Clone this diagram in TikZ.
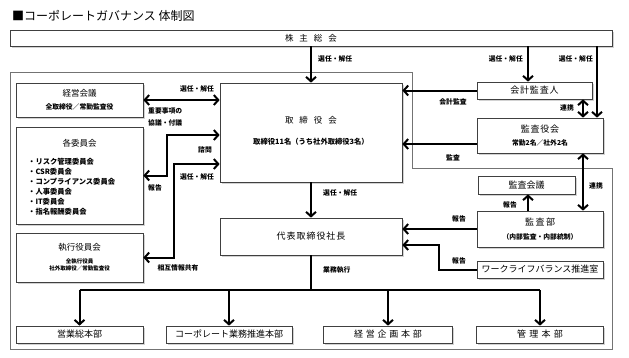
\documentclass[tikz,border=0pt]{standalone}
\usepackage{fontspec}
\setmainfont{Noto Sans CJK JP}
\usetikzlibrary{arrows.meta,shadows,calc}
\newcommand\fs[1]{\fontsize{#1}{#1}\selectfont}
\begin{document}
\begin{tikzpicture}[x=1pt,y=-1pt,
 box/.style={draw=black!75, line width=0.7pt, fill=white, inner sep=0pt,
   drop shadow={shadow xshift=1.8pt,shadow yshift=-1.8pt,fill=black!35}},
 lbl/.style={font=\fs{6.8}\bfseries, inner sep=0pt},
 ttl/.style={font=\fs{9}, inner sep=0pt},
 sub/.style={font=\fs{6.8}\bfseries, inner sep=0pt},
 arr/.style={line width=2pt, -{Straight Barb[length=4.5pt,width=10pt]}},
 dbl/.style={line width=2pt, {Straight Barb[length=4.5pt,width=10pt]}-{Straight Barb[length=4.5pt,width=10pt]}},
 ln/.style={line width=2pt}]
\fill[white] (0,0) rectangle (629,357);
\useasboundingbox (0,0) rectangle (629,357);

% title
\node[anchor=west, inner sep=0pt, font=\fs{12}] (title) at (12,16) {■コーポレートガバナンス 体制図};

% outer frame
\draw[black!55, line width=0.9pt] (10,72) -- (412,72) -- (412,168) -- (612,168) -- (612,349) -- (10,349) -- cycle;

% shareholders
\node[box, minimum width=602pt, minimum height=16pt, font=\fs{8.5}] (kabu) at (311,38) {株\kern6pt 主\kern6pt 総\kern6pt 会};

% left column
\node[box, minimum width=127pt, minimum height=34pt] (keiei) at (79.5,100) {};
\node[ttl, font=\fs{8.5}] (keieiT) at (79.5,93) {経営会議};
\node[sub] (keieiS) at (79.5,107) {全取締役／常勤監査役};

\node[box, minimum width=127pt, minimum height=97pt] (iinkai) at (79.5,175.5) {};
\node[ttl, font=\fs{8.5}] (iinkaiT) at (79.5,143) {各委員会};
\node[anchor=north west, inner sep=0pt, align=left, font=\fontsize{7.3}{10}\selectfont\bfseries] (iinkaiL) at (28,158)
 {・リスク管理委員会\\・CSR委員会\\・コンプライアンス委員会\\・人事委員会\\・IT委員会\\・指名報酬委員会};

\node[box, minimum width=127pt, minimum height=49pt] (shikko) at (79.5,257.5) {};
\node[ttl, font=\fs{8.5}] (shikkoT) at (79.5,247) {執行役員会};
\node[sub, align=center, font=\fontsize{5.5}{6.5}\selectfont\bfseries] (shikkoS) at (79.5,265) {全執行役員\\社外取締役／常勤監査役};

% center column
\node[box, minimum width=182pt, minimum height=99pt] (tori) at (311,132.5) {};
\node[ttl, font=\fs{8.5}] (toriT) at (311,120) {取\kern6pt 締\kern6pt 役\kern6pt 会};
\node[sub, font=\fs{7.3}\bfseries] (toriS) at (311,142) {取締役11名（うち社外取締役3名）};

\node[box, minimum width=182pt, minimum height=37pt, font=\fs{9}] (daihyo) at (311,236.5) {代\kern1pt 表\kern1pt 取\kern1pt 締\kern1pt 役\kern1pt 社\kern1pt 長};

% right column
\node[box, minimum width=115pt, minimum height=17pt, font=\fs{9}] (kaikei) at (534.5,90.5) {会\kern0.8pt 計\kern0.8pt 監\kern0.8pt 査\kern0.8pt 人};
\node[box, minimum width=126pt, minimum height=35pt] (kansayaku) at (540,135.5) {};
\node[ttl] (kansayakuT) at (540,129) {監\kern0.7pt 査\kern0.7pt 役\kern0.7pt 会};
\node[sub] (kansayakuS) at (540,143) {常勤2名／社外2名};
\node[box, minimum width=97pt, minimum height=18pt, font=\fs{9}] (kaigi) at (526.5,185) {監査会議};
\node[box, minimum width=126pt, minimum height=36pt] (kansabu) at (540,229) {};
\node[ttl] (kansabuT) at (540,222) {監\kern1.5pt 査\kern1.5pt 部};
\node[sub] (kansabuS) at (540,237) {（内部監査・内部統制）};
\node[box, minimum width=126pt, minimum height=17pt, font=\fs{9}] (wlb) at (540,269.5) {ワークライフバランス推進室};

% bottom row
\node[box, minimum width=127pt, minimum height=17pt, font=\fs{9}] (eigyo) at (79.5,334.5) {営業総本部};
\node[box, minimum width=126pt, minimum height=17pt, font=\fs{9}] (corp) at (229,334.5) {コーポレート業務推進本部};
\node[box, minimum width=129pt, minimum height=17pt, font=\fs{9}] (kikaku) at (388,334.5) {経\kern2.8pt 営\kern2.8pt 企\kern2.8pt 画\kern2.8pt 本\kern2.8pt 部};
\node[box, minimum width=127pt, minimum height=17pt, font=\fs{9}] (kanri) at (540,334.5) {管\kern3.3pt 理\kern3.3pt 本\kern3.3pt 部};

% helper coordinates
\coordinate (kx) at (528,0);
\coordinate (ky) at (597,0);
\coordinate (rx) at (583,0);
\coordinate (c1) at (167,135);
\coordinate (c2) at (174,164);
\coordinate (c3) at (0,144);
\coordinate (c5) at (439,245);
\coordinate (bus) at (311,290);

% shareholders arrows
\draw[arr] (kabu.south) -- (tori.north);
\node[lbl, anchor=west] (l1) at (318,59) {選任・解任};
\draw[arr] (kabu.south -| kx) -- (kaikei.north -| kx);
\node[lbl, anchor=east] (l2) at (523,59) {選任・解任};
\draw[arr] (kabu.south -| ky) -- (kansayaku.north -| ky);
\node[lbl, anchor=east] (l3) at (593,59) {選任・解任};

% left connections
\draw[dbl] (keiei.east) -- (keiei.east -| tori.west);
\node[lbl] (l4) at (197,89) {選任・解任};
\node[lbl, anchor=west] (l5) at (148,111) {重要事項の};
\node[lbl, anchor=west] (l6) at (148,123) {協議・付議};

\draw[dbl] (iinkai.east) -| (c1) -- (c1 -| tori.west);
\node[lbl] (l7) at (205,150) {諮問};
\node[lbl] (l8) at (155,188) {報告};

\draw[dbl] (shikko.east) -| (c2) -- (c2 -| tori.west);
\node[lbl] (l9) at (197,177) {選任・解任};
\node[lbl] (l10) at (178,268) {相互情報共有};

% center
\draw[arr] (tori.south) -- (daihyo.north);
\node[lbl, anchor=west] (l11) at (323,193) {選任・解任};
\draw[line width=2.6pt] (daihyo.south) -- (bus);
\node[lbl, anchor=west] (l12) at (323,270) {業務執行};
\draw[ln] (eigyo.north |- bus) -- (kanri.north |- bus);
\draw[arr] (eigyo.north |- bus) -- (eigyo.north);
\draw[arr] (corp.north |- bus) -- (corp.north);
\draw[arr] (kikaku.north |- bus) -- (kikaku.north);
\draw[arr] (kanri.north |- bus) -- (kanri.north);

% right connections
\draw[arr] (kaikei.west) -- (kaikei.west -| tori.east);
\node[lbl] (l13) at (453,102) {会計監査};
\draw[arr] (kansayaku.west |- c3) -- (tori.east |- c3);
\node[lbl] (l14) at (453,158) {監査};
\draw[dbl] (kaikei.south -| rx) -- (kansayaku.north -| rx);
\node[lbl] (l15) at (567,108) {連携};
\draw[dbl] (kansayaku.south -| rx) -- (kansabu.north -| rx);
\node[lbl] (l16) at (596,186) {連携};
\draw[arr] (kansabu.north -| kx) -- (kaigi.south -| kx);
\node[lbl] (l17) at (510,205) {報告};
\draw[arr] (kansabu.west) -- (kansabu.west -| daihyo.east);
\node[lbl] (l18) at (459,219) {報告};
\draw[arr] (wlb.west) -| (c5) -- (c5 -| daihyo.east);
\node[lbl] (l19) at (459,261) {報告};
\end{tikzpicture}
\end{document}
